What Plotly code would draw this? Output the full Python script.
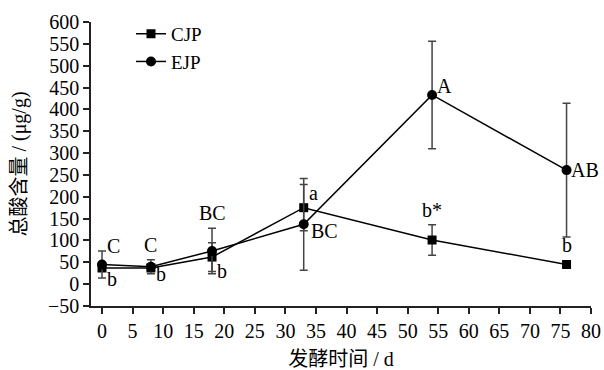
import plotly.graph_objects as go

days = [0, 8, 18, 33, 54, 76]
cjp = [37, 37, 62, 175, 101, 45]
cjp_err = [0, 0, 33, 53, 35, 0]
ejp = [45, 40, 76, 137, 433, 261]
ejp_err = [31, 16, 52, 105, 123, 153]

# letter labels: (x, y, text, xanchor, yanchor, xshift, yshift)
labels = [
    (0, 72, "C", "left", "bottom", 3, -6),
    (0, 11, "b", "left", "middle", 3, 0),
    (8, 55, "C", "center", "bottom", 0, 2),
    (8, 23, "b", "left", "middle", 3, 0),
    (18, 128, "BC", "center", "bottom", 0, 2),
    (18, 30, "b", "left", "middle", 3, 0),
    (33, 175, "a", "left", "bottom", 3, 2),
    (33, 137, "BC", "left", "top", 5, 6),
    (54, 433, "A", "left", "bottom", 3, -4),
    (54, 136, "b*", "center", "bottom", 0, 2),
    (76, 261, "AB", "left", "middle", 2, 0),
    (76, 45, "b", "center", "bottom", 0, 6),
]

FONT = "Liberation Serif, DejaVu Serif, serif"
CJK = "Liberation Serif, Noto Sans CJK SC"

fig = go.Figure()
fig.add_trace(go.Scatter(
    x=days, y=cjp, name="CJP", mode="lines+markers",
    line=dict(color="black", width=1.5),
    marker=dict(symbol="square", size=9, color="black"),
    error_y=dict(type="data", array=cjp_err, visible=True, color="#444444", thickness=1.5, width=4),
))
fig.add_trace(go.Scatter(
    x=days, y=ejp, name="EJP", mode="lines+markers",
    line=dict(color="black", width=1.5),
    marker=dict(symbol="circle", size=10, color="black"),
    error_y=dict(type="data", array=ejp_err, visible=True, color="#444444", thickness=1.5, width=4),
))

for x, y, t, xa, ya, xs, ys in labels:
    fig.add_annotation(x=x, y=y, text=t, showarrow=False, xanchor=xa, yanchor=ya,
                       xshift=xs, yshift=ys, font=dict(family=FONT, size=20, color="black"))

fig.update_layout(
    width=604, height=370,
    margin=dict(l=91, r=13, t=22, b=64, autoexpand=False),
    paper_bgcolor="white", plot_bgcolor="white",
    font=dict(family=FONT, size=20, color="black"),
    showlegend=True,
    legend=dict(x=0.08, y=1.025, xanchor="left", yanchor="top", bgcolor="rgba(0,0,0,0)",
                font=dict(family=FONT, size=19, color="black"), itemwidth=30),
)
fig.update_xaxes(
    range=[-1.8, 80], tickmode="array", tickvals=list(range(0, 81, 5)),
    showline=True, linecolor="#222", linewidth=1.5, ticks="outside", ticklen=6,
    tickcolor="#222", tickwidth=1.5, showgrid=False, zeroline=False, automargin=False,
    title=dict(text="发酵时间 / d", font=dict(family=CJK, size=20, color="black"), standoff=24),
    tickfont=dict(family=FONT, size=20, color="black"),
)
fig.update_yaxes(
    range=[-50, 600], tickmode="array", tickvals=list(range(-50, 601, 50)),
    showline=True, linecolor="#222", linewidth=1.5, ticks="outside", ticklen=6,
    tickcolor="#222", tickwidth=1.5, showgrid=False, zeroline=False, automargin=False,
    title=dict(text="总酸含量 / (μg/g)", font=dict(family=CJK, size=20, color="black"), standoff=16),
    tickfont=dict(family=FONT, size=20, color="black"),
)

fig.write_html("out.html")
